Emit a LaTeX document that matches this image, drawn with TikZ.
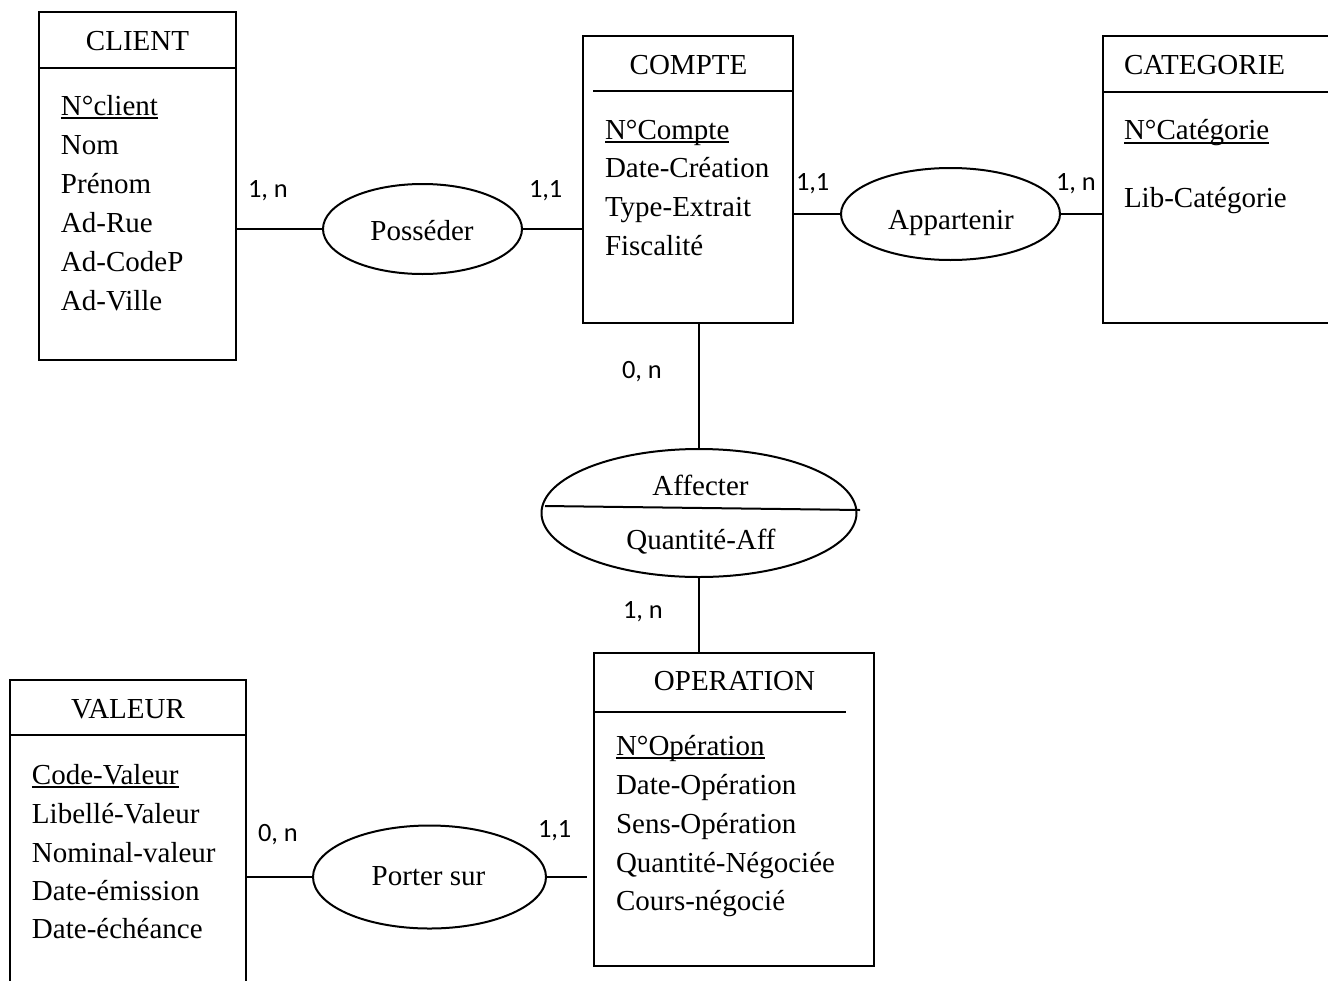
\documentclass[tikz,border=0pt]{standalone}
\usepackage{fontspec}
\setmainfont{Liberation Serif}
\newfontfamily\lblfont{Carlito}
\usetikzlibrary{shapes.geometric}
\newcommand{\keyattr}[1]{\setbox0\hbox{#1}\rlap{\rule[-2pt]{\wd0}{1pt}}\box0}
\begin{document}
\begin{tikzpicture}[x=0.5pt, y=-0.5pt, line width=1pt,
  entity/.style={draw, rectangle, inner sep=0pt, outer sep=0pt},
  relation/.style={draw, ellipse, inner sep=0pt, outer sep=0pt},
  ttl/.style={font=\fontsize{14.5}{17}\selectfont, inner sep=0pt, anchor=base},
  attr/.style={font=\fontsize{14.5}{17}\selectfont, inner sep=0pt, anchor=base west},
  card/.style={font=\lblfont\fontsize{13.2}{15}\selectfont, inner sep=0pt, anchor=base west}]
\useasboundingbox (0,0) rectangle (1328,980);

% ---------- entities ----------
\node[entity, minimum width=98.5pt, minimum height=174pt] (client) at (137.5,186) {};
\draw (39,68) -- (236,68);
\node[ttl] (clientT) at (137.5,50) {CLIENT};
\node[attr] (c1) at (60,115) {\keyattr{N°client}};
\node[attr] (c2) at (60,154) {Nom};
\node[attr] (c3) at (60,193) {Prénom};
\node[attr] (c4) at (60,232) {Ad-Rue};
\node[attr] (c5) at (60,271) {Ad-CodeP};
\node[attr] (c6) at (60,310) {Ad-Ville};

\node[entity, minimum width=105pt, minimum height=143.5pt] (compte) at (688,179.5) {};
\draw (593,91) -- (793,91);
\node[ttl] (compteT) at (688.5,74) {COMPTE};
\node[attr] (k1) at (604,139) {\keyattr{N°Compte}};
\node[attr] (k2) at (604,177.5) {Date-Création};
\node[attr] (k3) at (604,216) {Type-Extrait};
\node[attr] (k4) at (604,255) {Fiscalité};

\node[entity, minimum width=133.5pt, minimum height=143.5pt] (categ) at (1236.5,179.5) {};
\draw (1103,92) -- (1370,92);
\node[attr] (categT) at (1123,74) {CATEGORIE};
\node[attr] (g1) at (1123,139.5) {\keyattr{N°Catégorie}};
\node[attr] (g2) at (1123,207) {Lib-Catégorie};

\node[entity, minimum width=140pt, minimum height=156.5pt] (oper) at (734,809.5) {};
\draw (594,712) -- (846,712);
\node[ttl] (operT) at (734.5,690) {OPERATION};
\node[attr] (o1) at (615,755) {\keyattr{N°Opération}};
\node[attr] (o2) at (615,794) {Date-Opération};
\node[attr] (o3) at (615,833) {Sens-Opération};
\node[attr] (o4) at (615,872) {Quantité-Négociée};
\node[attr] (o5) at (615,910) {Cours-négocié};

\node[entity, minimum width=118pt, minimum height=165pt] (valeur) at (128,845) {};
\draw (10,735) -- (246,735);
\node[ttl] (valeurT) at (128,718) {VALEUR};
\node[attr] (v1) at (31,784) {\keyattr{Code-Valeur}};
\node[attr] (v2) at (31,823) {Libellé-Valeur};
\node[attr] (v3) at (31,862) {Nominal-valeur};
\node[attr] (v4) at (31,900) {Date-émission};
\node[attr] (v5) at (31,938) {Date-échéance};

% ---------- relations ----------
\node[relation, minimum width=99.5pt, minimum height=45pt] (poss) at (422.5,229) {};
\node[ttl] (possT) at (422,240) {Posséder};

\node[relation, minimum width=109.5pt, minimum height=46pt] (app) at (950.5,214) {};
\node[ttl] (appT) at (951,229) {Appartenir};

\node[relation, minimum width=157.5pt, minimum height=64pt] (aff) at (699,513) {};
\draw (545,506) -- (860,510);
\node[ttl] (affT) at (700.5,495) {Affecter};
\node[ttl] (affA) at (701,549) {Quantité-Aff};

\node[relation, minimum width=116.5pt, minimum height=51.5pt] (porter) at (429.5,877) {};
\node[ttl] (porterT) at (428.5,885) {Porter sur};

% ---------- connectors ----------
\draw (client.east |- poss.west) -- (poss.west);
\draw (poss.east) -- (poss.east -| compte.west);
\draw (compte.east |- app.west) -- (app.west);
\draw (app.east) -- (app.east -| categ.west);
\draw (aff.north |- compte.south) -- (aff.north);
\draw (aff.south) -- (aff.south |- oper.north);
\draw (valeur.east |- porter.west) -- (porter.west);
\coordinate (pend) at (587,877);
\draw (porter.east) -- (pend);

% ---------- cardinalities ----------
\node[card] (l1) at (247,197) {1, n};
\node[card] (l2) at (528,197) {1,1};
\node[card] (l3) at (795,190) {1,1};
\node[card] (l4) at (1055,190) {1, n};
\node[card] (l5) at (621,378) {0, n};
\node[card] (l6) at (622,618) {1, n};
\node[card] (l7) at (257,841) {0, n};
\node[card] (l8) at (537,837) {1,1};
\end{tikzpicture}
\end{document}
